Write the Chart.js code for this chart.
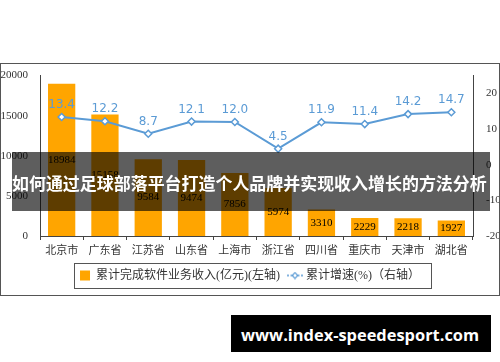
<!DOCTYPE html>
<html><head><meta charset="utf-8">
<script src="https://cdn.jsdelivr.net/npm/chart.js@4.4.0/dist/chart.umd.min.js"></script>
<style>
html,body{margin:0;padding:0;background:#fff;width:500px;height:362px;overflow:hidden;position:relative;}
#box{position:absolute;left:0;top:63px;width:498px;height:231px;border:1px solid #555;}
#c{display:block;}
#banner{position:absolute;left:12px;top:152px;width:478px;height:59px;background:rgba(0,0,0,0.63);}
#banner span{position:absolute;left:0;top:50%;transform:translateY(-50%);color:#fff;font-weight:bold;font-family:"Noto Sans CJK SC";font-size:17px;white-space:nowrap;}
#wm{position:absolute;left:231px;top:315px;width:260px;height:37px;background:#000;}
#wm span{position:absolute;left:10px;top:50%;transform:translateY(-50%);color:#fff;font-weight:bold;font-family:"Open Sans";font-size:18px;white-space:nowrap;}
</style></head>
<body>
<div id="box"><canvas id="c" width="498" height="231"></canvas></div>
<div id="banner"><span id="bt">如何通过足球部落平台打造个人品牌并实现收入增长的方法分析</span></div>
<div id="wm"><span id="wt">www.index-speedesport.com</span></div>
<script>
function fitText(el, target) {
  let fs = parseFloat(getComputedStyle(el).fontSize);
  for (let k = 0; k < 4; k++) {
    const w = el.getBoundingClientRect().width;
    if (!w) break;
    fs = fs * target / w;
    el.style.fontSize = fs + 'px';
  }
}
fitText(document.getElementById('bt'), 475);
fitText(document.getElementById('wt'), 238);

const categories = ['北京市','广东省','江苏省','山东省','上海市','浙江省','四川省','重庆市','天津市','湖北省'];
const revenue = [18984,15158,9584,9474,7856,5974,3310,2229,2218,1927];
const growth = [13.4,12.2,8.7,12.1,12.0,4.5,11.9,11.4,14.2,14.7];
const leftTicks = [0,5000,10000,15000,20000];
const rightTicks = [-20,-10,0,10,20];
const seriesNames = ['累计完成软件业务收入(亿元)(左轴)','累计增速(%)（右轴）'];

const ORANGE = '#FFA500';
const BLUE = '#5B9BD5';
const SERIF = '"Liberation Serif", "Noto Sans CJK SC", serif';

const lineIcon = document.createElement('canvas');
lineIcon.width = 16; lineIcon.height = 8;
(function(){
  const g = lineIcon.getContext('2d');
  g.strokeStyle = BLUE; g.lineWidth = 1.5; g.setLineDash([2,1.5]);
  g.beginPath(); g.moveTo(0,4); g.lineTo(16,4); g.stroke();
  g.setLineDash([]);
  g.beginPath(); g.moveTo(8,1.2); g.lineTo(10.8,4); g.lineTo(8,6.8); g.lineTo(5.2,4); g.closePath();
  g.fillStyle = '#fff'; g.fill(); g.lineWidth = 1.2; g.stroke();
})();

const valueLabels = {
  id: 'valueLabels',
  afterDatasetsDraw(chart) {
    const ctx = chart.ctx;
    ctx.save();
    ctx.textAlign = 'center'; ctx.textBaseline = 'middle';
    ctx.font = '11px ' + SERIF; ctx.fillStyle = '#000';
    chart.getDatasetMeta(0).data.forEach((el, i) => {
      ctx.fillText(String(revenue[i]), el.x, (el.y + el.base) / 2);
    });
    ctx.font = '12px "DejaVu Sans"'; ctx.fillStyle = BLUE;
    chart.getDatasetMeta(1).data.forEach((el, i) => {
      ctx.fillText(growth[i].toFixed(1), el.x, el.y - 12);
    });
    ctx.restore();
  }
};

const legendBorder = {
  id: 'legendBorder',
  afterDraw(chart) {
    const hb = chart.legend && chart.legend.legendHitBoxes;
    if (!hb || !hb.length) return;
    let l = Infinity, r = -Infinity, t = Infinity, b = -Infinity;
    hb.forEach(h => { l = Math.min(l, h.left); r = Math.max(r, h.left + h.width); t = Math.min(t, h.top); b = Math.max(b, h.top + h.height); });
    const ctx = chart.ctx;
    ctx.save();
    ctx.strokeStyle = '#555'; ctx.lineWidth = 1;
    ctx.strokeRect(Math.round(l - 6) + 0.5, Math.round(t - 7) + 0.5, Math.round(r - l + 17), Math.round(b - t + 13));
    ctx.restore();
  }
};

new Chart(document.getElementById('c'), {
  data: {
    labels: categories,
    datasets: [
      { type: 'bar', label: seriesNames[0], data: revenue, yAxisID: 'y', backgroundColor: ORANGE, borderWidth: 0, order: 1, categoryPercentage: 1, barPercentage: 0.63 },
      { type: 'line', label: seriesNames[1], data: growth, yAxisID: 'y1', borderColor: BLUE, backgroundColor: '#fff', borderWidth: 2, pointStyle: 'rectRot', pointRadius: 3.5, pointBorderWidth: 1.5, pointBackgroundColor: '#fff', pointBorderColor: BLUE, tension: 0, order: 0 }
    ]
  },
  options: {
    responsive: false,
    animation: false,
    layout: { padding: { top: 8, left: 0, right: 0, bottom: 3.5 } },
    plugins: {
      tooltip: { enabled: false },
      legend: {
        position: 'bottom',
        labels: {
          usePointStyle: true, boxWidth: 10, boxHeight: 10, padding: 10,
          font: { size: 12, family: SERIF }, color: '#333',
          sort: (a, b) => a.datasetIndex - b.datasetIndex,
          generateLabels(chart) {
            const items = Chart.defaults.plugins.legend.labels.generateLabels(chart);
            items.forEach(it => {
              if (it.datasetIndex === 0) { it.pointStyle = 'rect'; it.lineWidth = 0; it.strokeStyle = ORANGE; it.fillStyle = ORANGE; }
              else { it.pointStyle = lineIcon; }
            });
            return items;
          }
        }
      }
    },
    scales: {
      x: {
        type: 'category', offset: true,
        grid: { display: true, drawOnChartArea: false, drawTicks: true, tickLength: 4, color: '#444', offset: true },
        border: { display: true, color: '#444' },
        ticks: { font: { size: 11, family: SERIF }, color: '#333', padding: 5, maxRotation: 0, autoSkip: false },
        afterFit(s) { s.height = 23.5; }
      },
      y: {
        type: 'linear', position: 'left', min: 0, max: 20000,
        grid: { display: false },
        border: { display: true, color: '#444' },
        afterBuildTicks(s) { s.ticks = leftTicks.map(v => ({ value: v })); },
        ticks: { font: { size: 11, family: SERIF }, color: '#333', padding: 4, callback: v => String(v) },
        afterFit(s) { s.width = 39; }
      },
      y1: {
        type: 'linear', position: 'right', min: -20, max: 25,
        grid: { display: false },
        border: { display: true, color: '#444' },
        afterBuildTicks(s) { s.ticks = rightTicks.map(v => ({ value: v })); },
        ticks: { font: { size: 11, family: SERIF }, color: '#333', padding: 5, callback: v => String(v) },
        afterFit(s) { s.width = 26; }
      }
    }
  },
  plugins: [valueLabels, legendBorder]
});
</script>
</body></html>
